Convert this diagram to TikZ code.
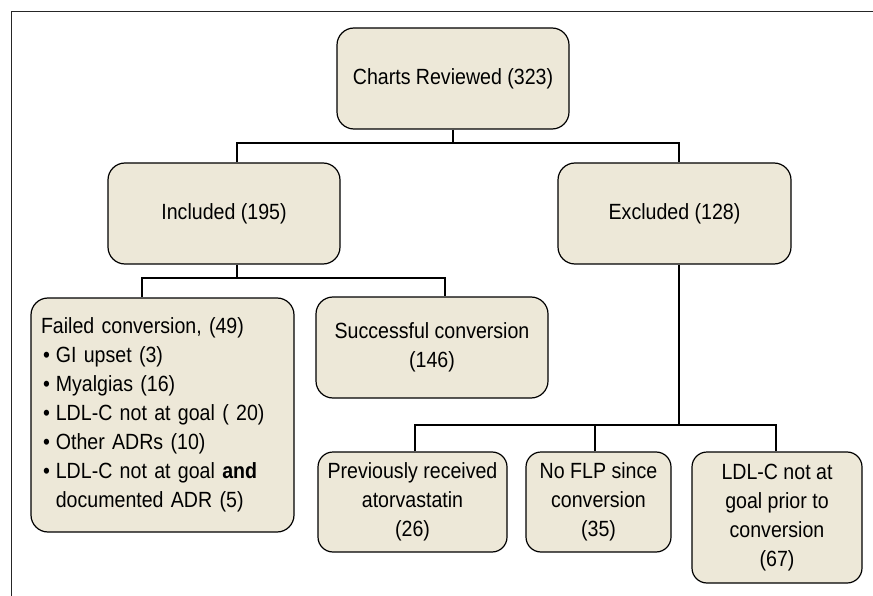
\documentclass[tikz,border=0pt]{standalone}
\usepackage{fontspec}
\setmainfont{Liberation Sans}[FakeStretch=0.89]
\usetikzlibrary{positioning}
\definecolor{boxfill}{RGB}{237,232,216}
\newcommand{\itm}{\hspace*{2pt}\textbullet\hspace{6pt}}

\begin{document}
\begin{tikzpicture}[x=1pt, y=-1pt,
            font=\fontsize{22}{29}\selectfont,
            box/.style = {draw, line width=1.2pt, rounded corners=17pt,
                fill=boxfill, align=center, inner sep=0pt},
            link/.style = {line width=2.2pt}]
            \useasboundingbox (0,0) rectangle (873,596);
            % outer frame
            \coordinate (fb) at (11,596);
            \coordinate (fr) at (873,12);
            \draw[line width=1pt, black!85] (fb) |- (fr);
            % first two levels
            \node[box, minimum width=232, minimum height=101] (top) at (453,78.5) {Charts Reviewed (323)};
            \node[box, minimum width=232, minimum height=101] (inc) at (224,213.5) {Included (195)};
            \node[box, minimum width=233, minimum height=101] (exc) at (674.5,213.5) {Excluded (128)};
            % included branch
            \node[box, align=left, text width=243, inner xsep=10pt, minimum height=234] (fail) at (162.5,415)
                {Failed conversion, (49)\\
                 \itm GI upset (3)\\
                 \itm Myalgias (16)\\
                 \itm LDL-C not at goal ( 20)\\
                 \itm Other ADRs (10)\\
                 \itm LDL-C not at goal \textbf{and}\\
                 \phantom{\itm}documented ADR (5)};
            \node[box, minimum width=232, minimum height=101] (succ) at (432,347.5) {Successful conversion\\(146)};
            % excluded branch
            \node[box, minimum width=189, minimum height=100, rounded corners=15pt] (prev) at (412.5,502) {Previously received\\atorvastatin\\(26)};
            \node[box, minimum width=145, minimum height=100, rounded corners=15pt] (noflp) at (598.5,502) {No FLP since\\conversion\\(35)};
            \node[box, minimum width=170, minimum height=131, rounded corners=15pt] (ldl) at (777,517.5) {LDL-C not at\\goal prior to\\conversion\\(67)};
            % connectors
            \coordinate (j1) at (453,143);
            \coordinate (j2) at (237,278);
            \coordinate (j3) at (679,425);
            \draw[link] (top) -- (j1);
            \draw[link] ([xshift=13]inc.north) |- (j1) -| ([xshift=4.5]exc.north);
            \draw[link] ([xshift=13]inc.south) -- (j2);
            \draw[link] ([xshift=-20.5]fail.north) |- (j2) -| ([xshift=13]succ.north);
            \draw[link] ([xshift=4.5]exc.south) -- (j3);
            \draw[link] ([xshift=2.5]prev.north) |- (j3) -| ([xshift=-1]ldl.north);
            \draw[link] ([xshift=-3.5]noflp.north) -- ([xshift=-3.5]noflp.north |- j3);
\end{tikzpicture}
\end{document}
